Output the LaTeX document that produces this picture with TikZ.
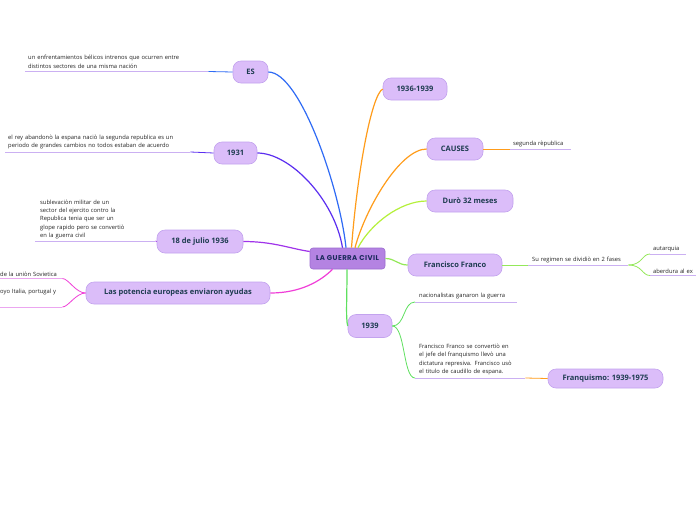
\documentclass[tikz,border=0pt]{standalone}
\usepackage{fontspec}
\setmainfont{Open Sans}
\newfontfamily\handfont{Poppins}[LetterSpace=6]
\definecolor{topicfill}{HTML}{DBBDF9}
\definecolor{topicdraw}{HTML}{C3A3EE}
\definecolor{topictext}{HTML}{1D3B4F}
\definecolor{centerfill}{HTML}{B483E2}
\definecolor{centerdraw}{HTML}{9B6BD0}
\definecolor{centertext}{HTML}{1B2A5C}
\definecolor{leafline}{HTML}{CBB0F2}
\definecolor{pinkline}{HTML}{EBA6F0}
\definecolor{cblue}{HTML}{2F6BF5}
\definecolor{cindigo}{HTML}{5B2EF0}
\definecolor{cpurple}{HTML}{A033EA}
\definecolor{cmagenta}{HTML}{F03ED8}
\definecolor{corange}{HTML}{FF9C1A}
\definecolor{clime}{HTML}{B5F03A}
\definecolor{cgreen}{HTML}{94E85A}
\definecolor{cgreenb}{HTML}{5EE05E}
\definecolor{leaftext}{HTML}{222222}
\begin{document}
\begin{tikzpicture}[x=1pt,y=-1pt,
  topic/.style={rounded corners=8pt, fill=topicfill, draw=topicdraw, line width=0.6pt,
    font=\fontsize{7.5}{9}\selectfont\bfseries, text=topictext, minimum height=22pt, inner sep=2pt},
  hub/.style={rounded corners=3pt, fill=centerfill, draw=centerdraw, line width=0.6pt,
    font=\handfont\fontsize{7}{8}\selectfont\bfseries, text=centertext, minimum width=75pt, minimum height=21pt, inner sep=1pt},
  leaf/.style={anchor=south west, font=\fontsize{5.8}{8.3}\selectfont, text=leaftext, align=left, inner ysep=3pt},
  uline/.style={draw=leafline, line width=0.8pt},
  conn/.style={line width=1.2pt},
  thin/.style={line width=0.8pt}]
\useasboundingbox[fill=white] (0,0) rectangle (696,520);

% main nodes
\node[hub] (c) at (347.5,258.5) {LA GUERRA CIVIL};
\node[topic, minimum width=35pt] (es) at (250.5,72) {ES};
\node[topic, minimum width=43pt] (y31) at (235.5,153) {1931};
\node[topic, minimum width=86pt, minimum height=23pt] (jul) at (200,241.5) {18 de julio 1936};
\node[topic, minimum width=184pt] (pot) at (178,293) {Las potencia europeas enviaron ayudas};
\node[topic, minimum width=64pt] (y36) at (415,89) {1936-1939};
\node[topic, minimum width=56pt] (cau) at (455,149) {CAUSES};
\node[topic, minimum width=86pt] (dur) at (470,201) {Durò 32 meses};
\node[topic, minimum width=94pt] (ff) at (455,265) {Francisco Franco};
\node[topic, minimum width=44pt, minimum height=23pt] (y39) at (370,326) {1939};
\node[topic, minimum width=115pt, minimum height=19pt] (fq) at (605.5,378.5) {Franquismo: 1939-1975};

% leaves
\node[leaf, text width=177pt, inner xsep=3pt] (lES) at (25,71.5) {un enfrentamientos bélicos intrenos que ocurren entre\\distintos sectores de una misma nación};
\node[leaf, text width=179pt, inner xsep=3pt] (l31) at (5,152) {el rey abandonò la espana naciò la segunda republica es un\\periodo de grandes cambios no todos estaban de acuerdo};
\node[leaf, text width=110pt, inner xsep=5pt, inner ysep=2pt] (lJul) at (35,241) {sublevaciòn militar de un\\sector del ejercito contro la\\Republica tenia que ser un\\glope rapido pero se convertiò\\en la guerra civil};
\node[leaf, text width=62pt, inner xsep=0pt, inner ysep=2pt] (lSov) at (0,278.5) {de la uniòn Sovietica};
\node[leaf, text width=62pt, inner xsep=0pt, inner ysep=2pt, text depth=11pt] (lIt) at (0,307) {oyo Italia, portugal y};
\node[leaf, text width=55pt, inner xsep=3pt, inner ysep=2pt] (lCau) at (510,149) {segunda rèpublica};
\node[leaf, text width=92pt, inner xsep=4pt, inner ysep=2pt] (lFF) at (528,265) {Su regimen se dividiò en 2 fases};
\node[leaf, text width=30pt, inner xsep=3pt, inner ysep=2pt] (lAut) at (650,254) {autarquia};
\node[leaf, text width=60pt, inner xsep=3pt, inner ysep=2pt] (lAb) at (650,275.5) {aberdura al ex};
\node[leaf, text width=94pt, inner xsep=4pt] (lNac) at (415,302) {nacionalistas ganaron la guerra};
\node[leaf, text width=102pt, inner xsep=4pt] (lFr) at (415,378) {Francisco Franco se convertiò en\\el jefe del franquismo llevò una\\dictatura represiva. Francisco usò\\el titulo de caudillo de espana.};

% underlines
\foreach \n in {lES,l31,lJul,lCau,lFF,lAut,lAb,lNac,lFr}
  \draw[uline] (\n.south west) -- (\n.south east);
\foreach \n in {lSov,lIt}
  \draw[draw=pinkline, line width=0.8pt] (\n.south west) -- (\n.south east);

% connectors from hub
\draw[conn, cblue] ([xshift=-1.5pt]c.north) .. controls +(-6,-58) and +(32,0) .. (es.east);
\draw[conn, cindigo] ([xshift=-5pt]c.north) .. controls +(-8,-48) and +(33,0) .. (y31.east);
\draw[conn, cpurple] ([yshift=7pt]c.west) .. controls +(-20,-3) and +(30,0) .. (jul.east);
\draw[conn, cmagenta] ([xshift=-15pt]c.south) .. controls +(-12,12) and +(30,0) .. (pot.east);
\draw[conn, corange] ([xshift=4pt]c.north) .. controls +(6,-78) and +(-11,6) .. (y36.west);
\draw[conn, corange] ([xshift=7.5pt]c.north) .. controls +(10,-38) and +(-27,0) .. (cau.west);
\draw[conn, clime] ([xshift=10.5pt]c.north) .. controls +(12,-23) and +(-27,0) .. (dur.west);
\draw[conn, cgreen] (c.east) .. controls +(10,0) and +(-10,0) .. (ff.west);
\draw[conn, cgreenb] ([xshift=-0.5pt]c.south) .. controls +(0,30) and +(-2,-8) .. (y39.west);

% connectors to leaves
\draw[thin, cblue] (es.west) -- (lES.south east);
\draw[thin, cindigo] (y31.west) -- (l31.south east);
\draw[thin, cpurple] (jul.west) -- (lJul.south east);
\draw[thin, cmagenta] (pot.west) .. controls +(-10,0) and +(6,0) .. (lSov.south east);
\draw[thin, cmagenta] (pot.west) .. controls +(-10,0) and +(6,0) .. (lIt.south east);
\draw[thin, corange] (cau.east) -- (lCau.south west);
\draw[thin, cgreen] (ff.east) -- (lFF.south west);
\draw[thin, cgreen] (lFF.south east) .. controls +(14,0) and +(-8,0) .. (lAut.south west);
\draw[thin, cgreen] (lFF.south east) .. controls +(14,0) and +(-8,0) .. (lAb.south west);
\draw[thin, cgreenb] (y39.east) .. controls +(13,0) and +(-12,0) .. (lNac.south west);
\draw[thin, cgreenb] (y39.east) .. controls +(13,0) and +(-12,0) .. (lFr.south west);
\draw[thin, corange] (lFr.south east) -- (fq.west);
\end{tikzpicture}
\end{document}
